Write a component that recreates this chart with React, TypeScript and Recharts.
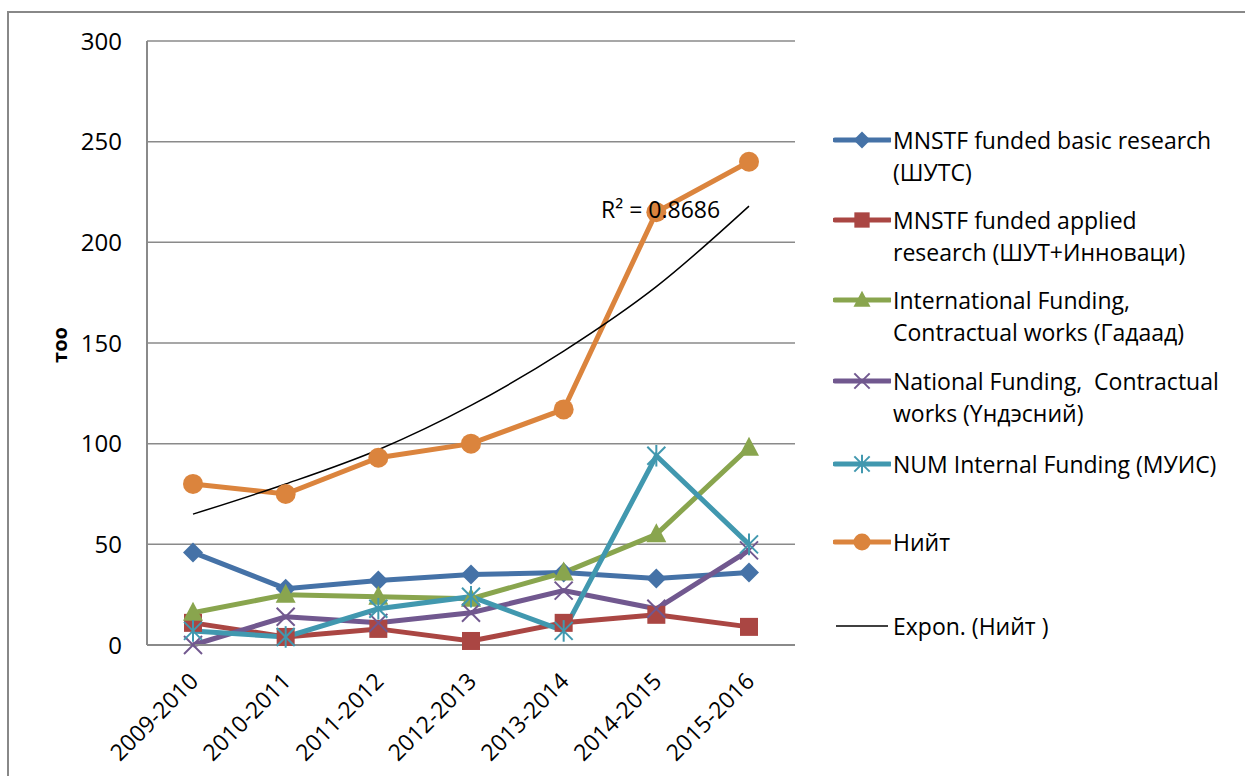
import React from 'react'
import { LineChart, Line, XAxis, YAxis, CartesianGrid } from 'recharts'

const categories = ['2009-2010', '2010-2011', '2011-2012', '2012-2013', '2013-2014', '2014-2015', '2015-2016']
const basicResearch = [46, 28, 32, 35, 36, 33, 36]
const appliedResearch = [11, 4, 8, 2, 11, 15, 9]
const internationalFunding = [16, 25, 24, 23, 36, 55, 98]
const nationalFunding = [0, 14, 11, 16, 27, 18, 47]
const internalFunding = [7, 4, 18, 24, 7, 94, 50]
const total = [80, 75, 93, 100, 117, 215, 240]
// exponential trend line of total
const totalTrend = [65, 80, 97, 119, 146, 178, 218]
const yTicks = [0, 50, 100, 150, 200, 250, 300]
const rSquared = 'R² = 0.8686'

const FONT = '"Open Sans", "Noto Sans", sans-serif'

const C = {
  blue: '#4572A7',
  red: '#AA4643',
  green: '#89A54E',
  purple: '#71588F',
  teal: '#4198AF',
  orange: '#DB843D',
}

const data = categories.map((c, i) => ({
  category: c,
  basic: basicResearch[i],
  applied: appliedResearch[i],
  intl: internationalFunding[i],
  national: nationalFunding[i],
  internal: internalFunding[i],
  total: total[i],
  trend: totalTrend[i],
}))

type Shape = 'diamond' | 'square' | 'triangle' | 'x' | 'star' | 'circle'

const Marker = ({ cx, cy, shape, color, s = 1 }: { cx: number; cy: number; shape: Shape; color: string; s?: number }) => {
  if (shape === 'diamond') {
    const r = 10 * s
    return <polygon points={`${cx},${cy - r} ${cx + r},${cy} ${cx},${cy + r} ${cx - r},${cy}`} fill={color} />
  }
  if (shape === 'square') {
    const r = 9 * s
    return <rect x={cx - r} y={cy - r} width={2 * r} height={2 * r} fill={color} />
  }
  if (shape === 'triangle') {
    const r = 10 * s
    return <polygon points={`${cx},${cy - r * 1.1} ${cx + r},${cy + r * 0.8} ${cx - r},${cy + r * 0.8}`} fill={color} />
  }
  if (shape === 'circle') {
    return <circle cx={cx} cy={cy} r={10 * s} fill={color} />
  }
  const r = 9 * s
  return (
    <g stroke={color} strokeWidth={2}>
      <line x1={cx - r} y1={cy - r} x2={cx + r} y2={cy + r} />
      <line x1={cx - r} y1={cy + r} x2={cx + r} y2={cy - r} />
      {shape === 'star' && <line x1={cx} y1={cy - r * 1.2} x2={cx} y2={cy + r * 1.2} />}
    </g>
  )
}

const dotFor = (shape: Shape, color: string) => (p: any) => (
  <Marker key={`${shape}-${p.index}`} cx={p.cx} cy={p.cy} shape={shape} color={color} />
)

const series: { key: string; color: string; shape: Shape; lines: string[] }[] = [
  { key: 'basic', color: C.blue, shape: 'diamond', lines: ['MNSTF funded basic research', '(ШУТС)'] },
  { key: 'applied', color: C.red, shape: 'square', lines: ['MNSTF funded applied', 'research (ШУТ+Инноваци)'] },
  { key: 'intl', color: C.green, shape: 'triangle', lines: ['International Funding,', 'Contractual works (Гадаад)'] },
  { key: 'national', color: C.purple, shape: 'x', lines: ['National Funding,  Contractual', 'works (Үндэсний)'] },
  { key: 'internal', color: C.teal, shape: 'star', lines: ['NUM Internal Funding (МУИС)'] },
  { key: 'total', color: C.orange, shape: 'circle', lines: ['Нийт'] },
]

const legendY = [140, 220, 300, 381, 464, 542, 626]

const XTick = ({ x, y, payload }: any) => (
  <g transform={`translate(${x + 1},${y + 30})`}>
    <text textAnchor="end" dy="0.35em" transform="rotate(-45)" fill="#000" fontSize={23} fontFamily={FONT}>
      {payload.value}
    </text>
  </g>
)

const Legend = () => (
  <div style={{ position: 'absolute', left: 0, top: 0, fontFamily: FONT, fontSize: 23, color: '#000' }}>
    {series.map((s, i) => (
      <div key={s.key} style={{ position: 'absolute', left: 833, top: legendY[i] - 16, whiteSpace: 'pre' }}>
        <svg width={58} height={32} style={{ position: 'absolute', left: 0, top: 0 }}>
          <line x1={2} y1={16} x2={57} y2={16} stroke={s.color} strokeWidth={5} strokeLinecap="round" />
          <Marker cx={29} cy={16} shape={s.shape} color={s.color} s={0.85} />
        </svg>
        <div style={{ position: 'absolute', left: 60, top: 0, lineHeight: '32px' }}>
          {s.lines.map((l) => (
            <div key={l}>{l}</div>
          ))}
        </div>
      </div>
    ))}
    <div style={{ position: 'absolute', left: 833, top: legendY[6] - 16, whiteSpace: 'pre' }}>
      <svg width={58} height={32} style={{ position: 'absolute', left: 0, top: 0 }}>
        <line x1={3} y1={16} x2={55} y2={16} stroke="#000" strokeWidth={1.5} />
      </svg>
      <div style={{ position: 'absolute', left: 60, top: 0, lineHeight: '32px' }}>Expon. (Нийт )</div>
    </div>
  </div>
)

export default function App() {
  return (
    <div style={{ position: 'absolute', left: 0, top: 0, width: 1245, height: 776, overflow: 'hidden', background: '#fff' }}>
      <div
        style={{
          position: 'absolute',
          left: 7,
          top: 11,
          width: 1400,
          height: 900,
          borderLeft: '2px solid #888',
          borderTop: '2px solid #888',
        }}
      />
      <div style={{ position: 'absolute', left: 0, top: 0 }}>
        <LineChart width={1245} height={776} data={data} margin={{ top: 41, right: 450, bottom: 0, left: 0 }}>
          <CartesianGrid vertical={false} stroke="#8a8a8a" strokeWidth={1.5} />
          <XAxis
            dataKey="category"
            height={131}
            padding={{ left: 46, right: 46 }}
            axisLine={{ stroke: '#8a8a8a', strokeWidth: 2 }}
            tickLine={false}
            tickSize={0}
            interval={0}
            tick={<XTick />}
          />
          <YAxis
            width={147}
            domain={[0, 300]}
            ticks={yTicks}
            axisLine={{ stroke: '#8a8a8a', strokeWidth: 2 }}
            tickLine={false}
            tickSize={0}
            tickMargin={25}
            tick={{ fill: '#000', fontSize: 24, fontFamily: FONT }}
            label={{
              content: () => (
                <text x={60} y={345} transform="rotate(-90, 60, 345)" textAnchor="middle" dy="0.35em" fontSize={20} fontWeight="bold" fontFamily={FONT} fill="#000">
                  тоо
                </text>
              ),
            }}
          />
          {series.map((s) => (
            <Line
              key={s.key}
              dataKey={s.key}
              stroke={s.color}
              strokeWidth={5}
              dot={dotFor(s.shape, s.color)}
              activeDot={false}
              isAnimationActive={false}
            />
          ))}
          <Line dataKey="trend" type="monotone" stroke="#000" strokeWidth={1.5} dot={false} activeDot={false} isAnimationActive={false} />
        </LineChart>
      </div>
      <div style={{ position: 'absolute', left: 601, top: 193, fontFamily: FONT, fontSize: 23, color: '#000' }}>{rSquared}</div>
      <Legend />
    </div>
  )
}
